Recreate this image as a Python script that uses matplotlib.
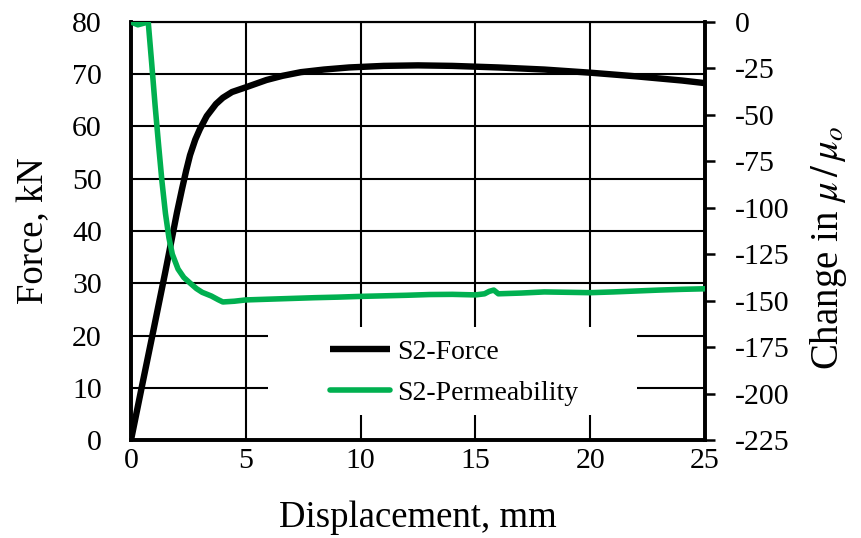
import matplotlib
import numpy as np

matplotlib.use("Agg")
import matplotlib.pyplot as plt
from matplotlib.patches import Rectangle

plt.rcParams["font.family"] = ["Liberation Serif", "DejaVu Serif"]
plt.rcParams["mathtext.fontset"] = "stix"
plt.rcParams["axes.unicode_minus"] = False

# force-displacement curve (left axis)
force_disp = [0, 0.5, 1.0, 1.5, 1.8, 2.0, 2.22, 2.4, 2.57, 2.8, 3.0, 3.3, 3.7, 4.0, 4.4,
              5.0, 5.9, 6.6, 7.4, 8.4, 9.5, 11.0, 12.5, 14.0, 16.0, 18.0, 20.0, 22.0,
              24.0, 25.0]
force_kn = [0, 10.8, 21.5, 32.3, 39.0, 43.5, 48.0, 51.5, 54.5, 57.5, 59.5, 62.0, 64.3,
            65.5, 66.6, 67.5, 68.9, 69.7, 70.4, 70.9, 71.3, 71.6, 71.7, 71.6, 71.3,
            70.9, 70.3, 69.6, 68.8, 68.3]

# permeability change (right axis)
perm_disp = [0, 0.3, 0.75, 0.9, 1.05, 1.2, 1.35, 1.5, 1.65, 1.8, 2.05, 2.3, 2.57, 2.85,
             3.1, 3.5, 3.8, 4.0, 4.5, 5.0, 6.0, 7.0, 8.0, 9.0, 10.0, 11.0, 12.0, 13.0,
             14.0, 15.0, 15.4, 15.6, 15.8, 16.0, 17.0, 18.0, 19.0, 20.0, 21.0, 22.0,
             23.0, 24.0, 25.0]
perm_change = [0, -1.5, 0, -22, -45, -66, -86, -103, -116, -125, -133, -137.5, -140.5,
               -143.5, -145.5, -147.5, -149.5, -150.7, -150.3, -149.6, -149.2, -148.8,
               -148.4, -148.1, -147.7, -147.4, -147.1, -146.7, -146.6, -146.9, -146.3,
               -145.0, -144.3, -146.3, -145.9, -145.3, -145.5, -145.7, -145.3, -144.8,
               -144.3, -143.9, -143.6]

fig = plt.figure(figsize=(8.62, 5.38), dpi=100)
ax = fig.add_axes([131 / 862, 98 / 538, 574 / 862, 418 / 538])
ax2 = ax.twinx()

l1, = ax.plot(force_disp, force_kn, color="black", lw=4.6, solid_capstyle="butt",
              label="S2-Force", zorder=3)
l2, = ax2.plot(perm_disp, perm_change, color="#00B050", lw=4.0, solid_capstyle="round",
               label="S2-Permeability", zorder=3)

ax.set_xlim(0, 25)
ax.set_ylim(0, 80)
ax2.set_ylim(-225, 0)
ax.set_xticks(np.arange(0, 26, 5))
ax.set_yticks(np.arange(0, 81, 10))
ax2.set_yticks(np.arange(-225, 1, 25))

ax.grid(True, color="black", lw=1.5)
ax.set_axisbelow(True)
ax.tick_params(axis="y", length=0, labelsize=21.5, pad=21)
ax.tick_params(axis="x", length=0, labelsize=21.5, pad=6)
ax2.tick_params(axis="y", direction="out", length=7.2, width=1.8, labelsize=21.5, pad=14)

for a in (ax, ax2):
    for s in ("left", "bottom", "right"):
        a.spines[s].set_linewidth(2.6)
    a.spines["top"].set_linewidth(1.5)

ax.set_xlabel("Displacement, mm", fontsize=26.5, labelpad=19)
ax.set_ylabel("Force, kN", fontsize=26.5, labelpad=15)
ax2.set_ylabel(r"Change in $\mu\,/\,\mu_o$", fontsize=28, labelpad=14)
ax2.yaxis.set_label_coords(1.18, 0.46)

# white box behind the legend hides the gridlines there
ax2.add_patch(Rectangle((0.2387, 0.0598), 0.6428, 0.2105, transform=ax2.transAxes,
                        facecolor="white", edgecolor="none", zorder=2))
ax2.legend(handles=[l1, l2], loc="center left", bbox_to_anchor=(0.3467, 0.1615),
           fontsize=20, frameon=False, handlelength=2.15, handletextpad=0.25,
           borderpad=0, labelspacing=0.55, borderaxespad=0)

fig.savefig("out.png", dpi=100)
